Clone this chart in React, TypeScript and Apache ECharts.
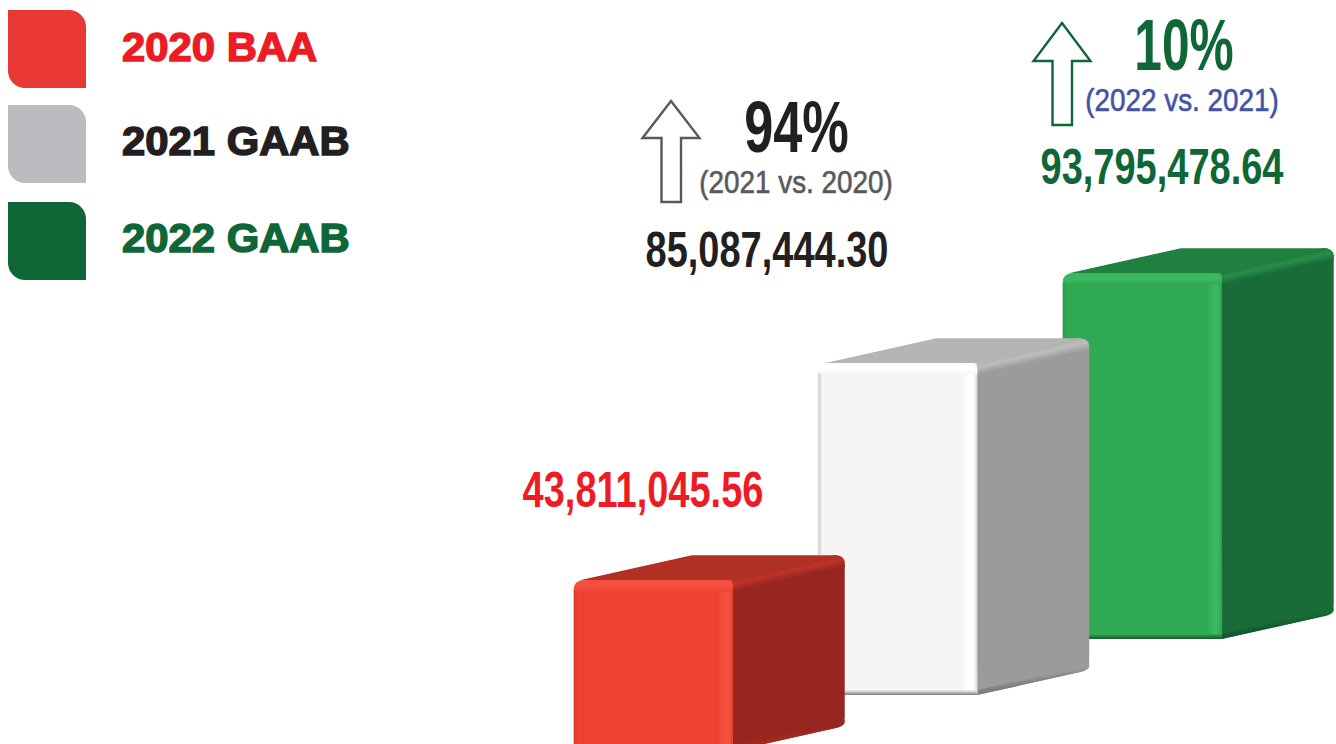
import React, { useEffect, useRef } from "react";
import * as echarts from "echarts";

const categories = ["2020 BAA", "2021 GAAB", "2022 GAAB"];
const amounts = [43811045.56, 85087444.3, 93795478.64];
const changes = ["94%", "10%"];
const comparisons = ["(2021 vs. 2020)", "(2022 vs. 2021)"];

const swatchColors = ["#e93734", "#bbbcc0", "#0f6637"];
const legendTextColors = ["#ed1c24", "#231f20", "#0f6637"];
const palettes = [
  { front: "#ee4231", light: "#f4503f", edge: "#d93a2a", low: "#a52a20", top: "#b03024", side: "#96261f", bevel: "#bd3228" },
  { front: "#f5f5f5", light: "#ffffff", edge: "#c9c9c9", low: "#7d7d7d", top: "#b5b6b4", side: "#9b9b9b", bevel: "#bdbdbd" },
  { front: "#30a953", light: "#3ab85f", edge: "#2a9a4a", low: "#14592e", top: "#1f8040", side: "#196b37", bevel: "#258f49" },
];

const fmt = (v: number) =>
  v.toLocaleString("en-US", { minimumFractionDigits: 2, maximumFractionDigits: 2 });

const DEPTH_X = 112;
const DEPTH_Y = 25;
const STEP_BACK = 56;
const FONT = '"Liberation Sans", sans-serif';

const grad = (x0: number, y0: number, x1: number, y1: number, stops: [number, string][]) =>
  new echarts.graphic.LinearGradient(x0, y0, x1, y1, stops.map(([offset, color]) => ({ offset, color })), true);

function renderBar(params: any, api: any) {
  const i = params.dataIndex;
  const c = palettes[i];
  const base = api.coord([api.value(0), 0]);
  const h = api.size([0, api.value(1)])[1];
  const bw = api.size([1, 0])[0] * 0.65;
  const x0 = base[0] - bw / 2;
  const x1 = base[0] + bw / 2;
  const yB = base[1] - STEP_BACK * i;
  const yT = yB - h;
  const bx = x1 + DEPTH_X;
  const tY = yT - DEPTH_Y;
  const bY = yB - DEPTH_Y;
  const z = (2 - i) * 20;
  const path = (d: string, fill: any, k: number) => ({
    type: "path",
    shape: { pathData: d },
    style: { fill, stroke: "none" },
    z2: z + k,
  });
  const frontD = `M${x0},${yT + 10} Q${x0},${yT} ${x0 + 10},${yT} L${x1 - 6},${yT} Q${x1},${yT} ${x1},${yT + 6} L${x1},${yB} L${x0},${yB} Z`;
  return {
    type: "group",
    children: [
      path(`M${x0 + 6},${yT} L${x0 + 118},${tY} L${bx - 10},${tY} Q${bx},${tY} ${bx},${tY + 8} L${x1},${yT + 6} Z`, c.top, 0),
      path(
        `M${x1 - 2},${yT + 2} L${bx - 10},${tY} Q${bx},${tY} ${bx},${tY + 10} L${bx},${bY - 8} Q${bx},${bY} ${bx - 9},${bY + 2} L${x1},${yB} Z`,
        c.side,
        1
      ),
      path(
        `M${x1 - 2},${yT + 2} L${bx - 10},${tY} Q${bx},${tY} ${bx},${tY + 10} L${bx},${tY + 12} L${x1},${yT + 13} Z`,
        grad(x1 + DEPTH_X / 2, yT - DEPTH_Y / 2, x1 + DEPTH_X / 2 + 2.5, yT - DEPTH_Y / 2 + 11, [
          [0, c.top],
          [0.35, c.bevel],
          [1, c.side],
        ]),
        2
      ),
      path(
        `M${x1},${yB - 5} L${bx},${bY - 6} L${bx},${bY - 4} Q${bx},${bY} ${bx - 9},${bY + 2} L${x1},${yB} Z`,
        grad(x1 + DEPTH_X / 2, yB - DEPTH_Y / 2 - 6, x1 + DEPTH_X / 2 + 1, yB - DEPTH_Y / 2, [
          [0, c.side],
          [1, c.low],
        ]),
        2
      ),
      path(frontD, c.front, 3),
      path(
        `M${x1 - 15},${yT} L${x1},${yT} L${x1},${yB} L${x1 - 15},${yB} Z`,
        grad(x1 - 15, 0, x1 + 1, 0, [
          [0, c.front],
          [0.45, c.light],
          [0.72, c.light],
          [1, c.edge],
        ]),
        4
      ),
      path(
        `M${x0},${yT + 10} Q${x0},${yT} ${x0 + 10},${yT} L${x1 - 6},${yT} Q${x1},${yT} ${x1},${yT + 6} L${x1},${yT + 11} L${x0},${yT + 11} Z`,
        grad(0, yT, 0, yT + 11, [
          [0, c.light],
          [0.6, c.light],
          [1, c.front],
        ]),
        5
      ),
      path(
        `M${x0},${yT + 10} L${x0 + 4},${yT + 10} L${x0 + 4},${yB} L${x0},${yB} Z`,
        grad(x0, 0, x0 + 4, 0, [
          [0, c.edge],
          [1, c.front],
        ]),
        6
      ),
      path(
        `M${x0},${yB - 5} L${x1},${yB - 5} L${x1},${yB} L${x0},${yB} Z`,
        grad(0, yB - 5, 0, yB, [
          [0, c.front],
          [1, c.low],
        ]),
        7
      ),
    ],
  };
}

const label = (text: string, x: number, y: number, fontSize: number, fill: string, scaleX: number, fontWeight: any = "bold", lineWidth = 0) => ({
  type: "text",
  x,
  y,
  scaleX,
  z: 10,
  style: {
    text,
    fontFamily: FONT,
    fontSize,
    fontWeight,
    fill,
    stroke: lineWidth ? fill : undefined,
    lineWidth,
    textAlign: "center",
    textVerticalAlign: "middle",
  },
});

const arrow = (tip: number, cx: number, baseY: number, bottom: number, stroke: string) => ({
  type: "polygon",
  z: 10,
  shape: {
    points: [
      [cx, tip],
      [cx + 28.5, baseY],
      [cx + 10, baseY],
      [cx + 10, bottom],
      [cx - 9.5, bottom],
      [cx - 9.5, baseY],
      [cx - 28.5, baseY],
    ],
  },
  style: { fill: "#ffffff", stroke, lineWidth: 2.4 },
});

const legendTops = [10, 105, 202];
const legendMid = [47, 141, 238];

export default function App() {
  const ref = useRef<HTMLDivElement>(null);
  useEffect(() => {
    const chart = echarts.init(ref.current!, null, { renderer: "svg" });
    chart.setOption({
      animation: false,
      backgroundColor: "#ffffff",
      grid: { left: 531, width: 733.5, top: 42, height: 702 },
      xAxis: { type: "category", data: categories, show: false },
      yAxis: { type: "value", min: 1800000, max: 181800000, show: false },
      series: [
        {
          type: "custom",
          clip: false,
          renderItem: renderBar,
          encode: { x: 0, y: 1 },
          data: amounts.map((v, i) => [i, v]),
        },
      ],
      graphic: [
        ...categories.flatMap((name, i) => [
          {
            type: "rect",
            shape: { x: 8, y: legendTops[i], width: 78, height: 78, r: [0, 17, 0, 17] },
            style: { fill: swatchColors[i] },
          },
          {
            type: "text",
            x: 122,
            y: legendMid[i],
            scaleX: 1.02,
            style: {
              text: name,
              fontFamily: FONT,
              fontSize: 41,
              fontWeight: "bold",
              fill: legendTextColors[i],
              stroke: legendTextColors[i],
              lineWidth: 1.5,
              textAlign: "left",
              textVerticalAlign: "middle",
            },
          },
        ]),
        label(fmt(amounts[0]), 643, 490, 50, "#ed1c24", 0.76),
        label(fmt(amounts[1]), 767, 250, 50, "#231f20", 0.76),
        label(fmt(amounts[2]), 1162, 167, 50, "#0f6637", 0.76),
        label(changes[0], 796.5, 127, 72, "#231f20", 0.726),
        label(changes[1], 1184, 45, 72, "#0f6637", 0.69),
        label(comparisons[0], 796, 182, 32, "#58595b", 0.87, "normal", 0.6),
        label(comparisons[1], 1182, 100, 32, "#4253a4", 0.87, "normal", 0.6),
        arrow(101, 671, 138, 202, "#58595b"),
        arrow(23, 1062, 61, 125, "#0f6637"),
      ],
    });
    return () => chart.dispose();
  }, []);
  return <div ref={ref} style={{ position: "fixed", left: 0, top: 0, width: 1336, height: 744 }} />;
}
